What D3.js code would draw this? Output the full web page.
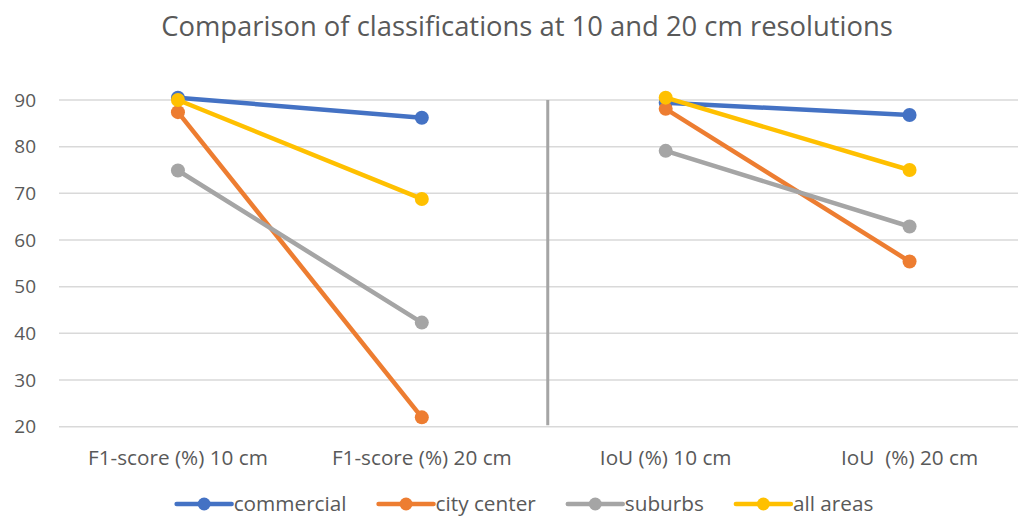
<!DOCTYPE html>
<html>
<head>
<meta charset="utf-8">
<script src="https://cdn.jsdelivr.net/npm/d3@7"></script>
<style>
  html, body { margin: 0; padding: 0; background: #fff; }
  svg { display: block; font-family: "Open Sans", "Noto Sans", sans-serif; }
  text { white-space: pre; }
</style>
</head>
<body>
<svg id="chart" width="1018" height="519"></svg>
<script>
const categories = ["F1-score (%) 10 cm", "F1-score (%) 20 cm", "IoU (%) 10 cm", "IoU  (%) 20 cm"];
const seriesNames = ["commercial", "city center", "suburbs", "all areas"];
const commercial = [90.5, 86.2, 89.4, 86.8];
const cityCenter = [87.4, 22.0, 88.1, 55.4];
const suburbs = [74.9, 42.3, 79.1, 62.9];
const allAreas = [90.0, 68.8, 90.5, 75.0];
const yTicks = [20, 30, 40, 50, 60, 70, 80, 90];
const colors = ["#4472C4", "#ED7D31", "#A5A5A5", "#FFC000"];
const title = "Comparison of classifications at 10 and 20 cm resolutions";

const seriesValues = [commercial, cityCenter, suburbs, allAreas];
const series = seriesNames.map((n, i) => ({ name: n, color: colors[i], values: seriesValues[i] }));

const svg = d3.select("#chart");
const textColor = "#595959";

const x = d3.scaleBand().domain(categories).range([56, 1031.5]).padding(0);
const cx = c => x(c) + x.bandwidth() / 2;
const y = d3.scaleLinear().domain([20, 90]).range([426.7, 100]);

function fit(sel, target) {
  const w = sel.node().getComputedTextLength();
  const fs = parseFloat(sel.attr("font-size"));
  sel.attr("font-size", fs * target / w);
}

// Title
const t = svg.append("text").attr("x", 527).attr("y", 36).attr("text-anchor", "middle")
  .attr("font-size", 24).attr("fill", textColor).text(title);
fit(t, 732);

// Gridlines
svg.append("g").selectAll("line").data(yTicks).join("line")
  .attr("x1", 59).attr("x2", 1031.5)
  .attr("y1", d => y(d)).attr("y2", d => y(d))
  .attr("stroke", "#D9D9D9").attr("stroke-width", 1.5);

// Y labels
svg.append("g").selectAll("text").data(yTicks).join("text")
  .attr("x", 36).attr("y", d => y(d)).attr("dy", "0.35em")
  .attr("text-anchor", "end").attr("font-size", 19).attr("fill", textColor)
  .text(d => d);

// X labels
const xl = svg.append("g").selectAll("text").data(categories).join("text")
  .attr("x", d => cx(d)).attr("y", 458).attr("dy", "0.35em")
  .attr("text-anchor", "middle").attr("font-size", 17.5).attr("fill", textColor)
  .text(d => d);
fit(d3.select(xl.nodes()[0]), 180);
xl.attr("font-size", d3.select(xl.nodes()[0]).attr("font-size"));

// Separator between the two metrics
const sepX = x(categories[2]) + 4;
svg.append("line").attr("x1", sepX).attr("x2", sepX)
  .attr("y1", y(90)).attr("y2", y(20) - 1.5)
  .attr("stroke", "#A5A5A5").attr("stroke-width", 3);

// Series
const pairs = [[0, 1], [2, 3]];
const line = d3.line().x(d => cx(d.c)).y(d => y(d.v));
series.forEach(s => {
  const g = svg.append("g");
  pairs.forEach(p => {
    const pts = p.map(i => ({ c: categories[i], v: s.values[i] }));
    g.append("path").attr("d", line(pts)).attr("fill", "none")
      .attr("stroke", s.color).attr("stroke-width", 4.5).attr("stroke-linecap", "round");
  });
  g.selectAll("circle").data(s.values).join("circle")
    .attr("cx", (d, i) => cx(categories[i])).attr("cy", d => y(d))
    .attr("r", 7).attr("fill", s.color);
});

// Legend
const legY = 504;
const lg = svg.append("g");
const items = lg.selectAll("g").data(series).join("g");
items.append("line").attr("x1", 0).attr("x2", 55).attr("y1", legY).attr("y2", legY)
  .attr("stroke", d => d.color).attr("stroke-width", 4.5).attr("stroke-linecap", "round");
items.append("circle").attr("cx", 27.5).attr("cy", legY).attr("r", 6.5).attr("fill", d => d.color);
const lt = items.append("text").attr("x", 57).attr("y", legY).attr("dy", "0.35em")
  .attr("font-size", 19).attr("fill", textColor).text(d => d.name);
fit(d3.select(lt.nodes()[0]), 113);
lt.attr("font-size", d3.select(lt.nodes()[0]).attr("font-size"));
const widths = lt.nodes().map(n => 57 + n.getComputedTextLength());
const gap = 32;
const total = d3.sum(widths) + gap * (widths.length - 1);
const start = 525 - total / 2;
items.attr("transform", (d, i) => {
  const off = start + d3.sum(widths.slice(0, i)) + gap * i;
  return `translate(${off},0)`;
});
</script>
</body>
</html>
